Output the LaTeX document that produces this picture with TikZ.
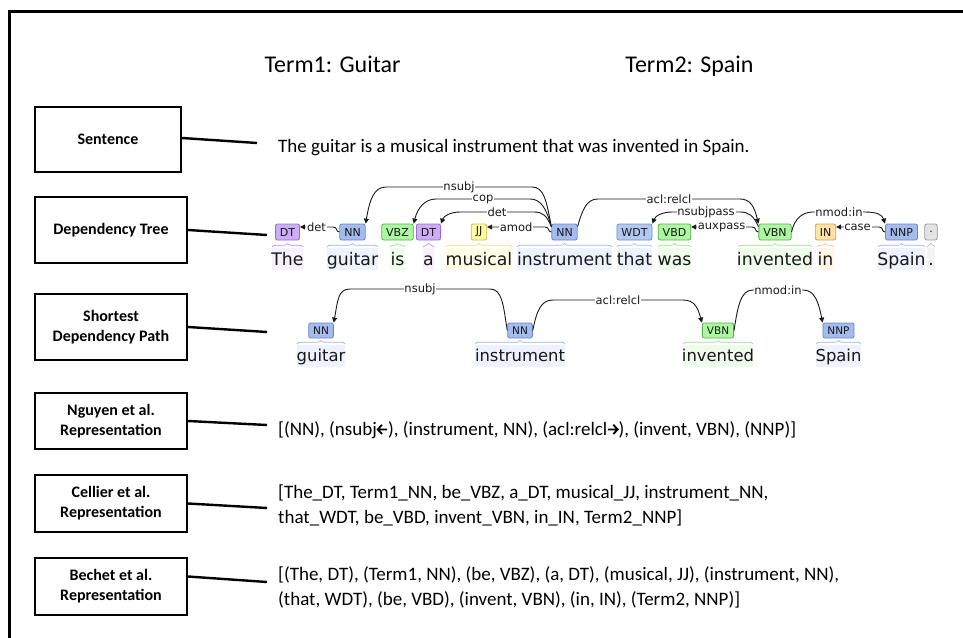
\documentclass[tikz,border=0pt]{standalone}
\usepackage{fontspec}
\setmainfont{Carlito}
\newfontfamily\depfont{DejaVu Sans}
\usetikzlibrary{arrows.meta,decorations.pathreplacing,calc}

% tag colours: f = tag fill, d = tag border, l = word shade, b = brace
\definecolor{dt-f}{HTML}{CCADF6}\definecolor{dt-d}{HTML}{9A6CC8}\definecolor{dt-l}{HTML}{F6F0FD}\definecolor{dt-b}{HTML}{B995E6}
\definecolor{nn-f}{HTML}{A4BCED}\definecolor{nn-d}{HTML}{6A87C8}\definecolor{nn-l}{HTML}{EEF2FC}\definecolor{nn-b}{HTML}{9DB3E6}
\definecolor{wdt-f}{HTML}{B3C8F0}\definecolor{wdt-d}{HTML}{7490CC}\definecolor{wdt-l}{HTML}{EEF2FC}\definecolor{wdt-b}{HTML}{A5BAE8}
\definecolor{vb-f}{HTML}{ADF6A2}\definecolor{vb-d}{HTML}{55B545}\definecolor{vb-l}{HTML}{EFFCEC}\definecolor{vb-b}{HTML}{9DDC92}
\definecolor{jj-f}{HTML}{FFFDA0}\definecolor{jj-d}{HTML}{C8C050}\definecolor{jj-l}{HTML}{FFFDE6}\definecolor{jj-b}{HTML}{E6DC8C}
\definecolor{in-f}{HTML}{FFE2A8}\definecolor{in-d}{HTML}{D9A04A}\definecolor{in-l}{HTML}{FFF6E6}\definecolor{in-b}{HTML}{EBC690}
\definecolor{pu-f}{HTML}{E3E3E3}\definecolor{pu-d}{HTML}{9A9A9A}\definecolor{pu-l}{HTML}{F4F4F4}\definecolor{pu-b}{HTML}{BBBBBB}

% heavy inline arrows used in the representation text
\newcommand{\heavyleft}{\tikz[x=1pt,y=1pt,baseline=0pt]\draw[line width=1.8pt, line join=miter]
  (5.3,1) -- (1,5.6) -- (5.3,10.2) (1,5.6) -- (10.5,5.6);}
\newcommand{\heavyright}{\tikz[x=1pt,y=1pt,baseline=0pt]\draw[line width=1.8pt, line join=miter]
  (5.2,1) -- (9.5,5.6) -- (5.2,10.2) (9.5,5.6) -- (0,5.6);}

\tikzset{
  lbox/.style={draw, line width=2pt, align=center, inner sep=0pt,
    font=\bfseries\fontsize{16}{20}\selectfont},
  link/.style={line width=2.4pt},
  txt/.style={anchor=base west, inner sep=0pt, font=\fontsize{19}{23}\selectfont},
  title/.style={anchor=base, inner sep=0pt, font=\fontsize{24}{28}\selectfont},
  tag/.style={rounded corners=2pt, line width=0.8pt, inner xsep=4.5pt, inner ysep=0pt,
    minimum height=16pt, text=black!90, font=\depfont\fontsize{11}{12}\selectfont},
  stag/.style={tag, minimum height=15pt, font=\depfont\fontsize{10.5}{12}\selectfont},
  word/.style={anchor=base, inner sep=0pt, text=black!90, font=\depfont\fontsize{17.3}{20}\selectfont},
  sword/.style={word, font=\depfont\fontsize{16.4}{20}\selectfont},
  arc/.style={draw=black!90, line width=0.9pt, -{Triangle[length=5pt,width=5pt]}},
  lab/.style={fill=white, inner sep=0.8pt, text=black!90, font=\depfont\fontsize{11.5}{12}\selectfont},
  brc/.style={decorate, decoration={brace, amplitude=3.5pt}, line width=0.7pt},
}

\begin{document}
\begin{tikzpicture}[x=1pt, y=-1pt]
\useasboundingbox (0,0) rectangle (963,637);

% outer frame
\draw[line width=2.5pt] (9.5,640) -- (9.5,11.3) -- (966,11.3);

% titles
\node[title] (term1) at (332.5,72) {Term1: Guitar};
\node[title] (term2) at (689.5,72) {Term2: Spain};

% row labels
\node[lbox, minimum width=146pt, minimum height=65pt] (b1) at (108,139.5) {Sentence};
\node[lbox, minimum width=152pt, minimum height=66pt] (b2) at (111,230) {Dependency Tree};
\node[lbox, minimum width=152pt, minimum height=66pt] (b3) at (111,327) {Shortest\\Dependency Path};
\node[lbox, minimum width=152pt, minimum height=56pt] (b4) at (111,421) {Nguyen et al.\\Representation};
\node[lbox, minimum width=152pt, minimum height=57pt] (b5) at (111,503.5) {Cellier et al.\\Representation};
\node[lbox, minimum width=152pt, minimum height=57pt] (b6) at (111,586.5) {Bechet et al.\\Representation};

\coordinate (c1) at (257,143);
\coordinate (c2) at (267,235);
\coordinate (c3) at (267,332);
\coordinate (c4) at (267,425);
\coordinate (c5) at (267,508);
\coordinate (c6) at (267,582);
\draw[link] ($(b1.east)+(0,-1.5)$) -- (c1);
\draw[link] (b2.east) -- (c2);
\draw[link] (b3.east) -- (c3);
\draw[link] (b4.east) -- (c4);
\draw[link] (b5.east) -- (c5);
\draw[link] ($(b6.east)+(0,-10)$) -- (c6);

% sentence
\node[txt] (sent) at (278,152) {The guitar is a musical instrument that was invented in Spain.};

% dependency tree tokens
\foreach \n/\xl/\xr/\tg/\cl/\wrd in {
  1/272/303/DT/dt/The,
  2/327/378/NN/nn/guitar,
  3/390/405/VBZ/vb/is,
  4/423/434/DT/dt/a,
  5/446/512/JJ/jj/musical,
  6/517/612/NN/nn/instrument,
  7/617/652/WDT/wdt/that,
  8/658/691/VBD/vb/was,
  9/738/812/VBN/vb/invented,
  10/817/834/IN/in/in,
  11/878/925/NNP/nn/Spain,
  12/927/935/./pu/.}{
  \fill[fill=\cl-l] (\xl,248) rectangle (\xr,270);
  \draw[brc, draw=\cl-b] (\xl,247) -- (\xr,247);
  \node[tag, fill=\cl-f, draw=\cl-d] (t\n) at ({(\xl+\xr)/2},232) {\tg};
  \node[word] (w\n) at ({(\xl+\xr)/2},265) {\wrd};
}

% dependency tree arcs
\draw[arc] ($(t6.north west)+(0,3)$) .. controls +(-5,-26) and +(12,0) .. (532,187)
  -- node[lab]{nsubj} (386,187) .. controls +(-12,0) and +(4,-24) .. (t2.north east);
\draw[arc] ($(t6.north west)+(0,3)$) .. controls +(-5,-18) and +(11,0) .. (530,199)
  -- node[lab]{cop} (436,199) .. controls +(-11,0) and +(4,-16) .. (t3.north east);
\draw[arc] ($(t6.north west)+(0,3)$) .. controls +(-5,-11) and +(9,0) .. (534,212)
  -- node[lab]{det} (460,212) .. controls +(-9,0) and +(3,-8) .. (t4.north east);
\draw[arc] (t6.west) .. controls +(-4,0) and +(5,0) .. (545,227)
  -- node[lab]{amod} ($(t5.east)+(0,-5)$);
\draw[arc] (t2.west) .. controls +(-4,0) and +(5,0) .. (333,227)
  -- node[lab]{det} ($(t1.east)+(0,-5)$);
\draw[arc] ($(t6.north east)+(0,3)$) .. controls +(5,-18) and +(-11,0) .. (598,199)
  -- node[lab]{acl:relcl} (740,199) .. controls +(11,0) and +(-4,-16) .. (t9.north west);
\draw[arc] ($(t9.north west)+(0,3)$) .. controls +(-5,-11) and +(9,0) .. (740,212)
  -- node[lab]{nsubjpass} (672,212) .. controls +(-9,0) and +(3,-8) .. (t7.north east);
\draw[arc] (t9.west) .. controls +(-4,0) and +(5,0) .. (752,227)
  -- node[lab]{auxpass} ($(t8.east)+(0,-5)$);
\draw[arc] (t9.east) .. controls +(3,-14) and +(-10,0) .. (813,212)
  -- node[lab]{nmod:in} (865,212) .. controls +(12,0) and +(-3,-9) .. (t11.north west);
\draw[arc] (t11.west) .. controls +(-4,0) and +(5,0) .. (879,227)
  -- node[lab]{case} ($(t10.east)+(0,-5)$);

% shortest dependency path tokens
\foreach \n/\xl/\xr/\tg/\cl/\wrd in {
  1/297/345/NN/nn/guitar,
  2/475/565/NN/nn/instrument,
  3/683/753/VBN/vb/invented,
  4/816/861/NNP/nn/Spain}{
  \fill[fill=\cl-l] (\xl,345) rectangle (\xr,367);
  \draw[brc, draw=\cl-b] (\xl,344) -- (\xr,344);
  \node[stag, fill=\cl-f, draw=\cl-d] (s\n) at ({(\xl+\xr)/2},330.5) {\tg};
  \node[sword] (v\n) at ({(\xl+\xr)/2},361) {\wrd};
}

% shortest dependency path arcs
\draw[arc] (s2.west) .. controls +(-4,-26) and +(12,0) .. (490,289)
  -- node[lab]{nsubj} (350,289) .. controls +(-12,0) and +(4,-22) .. (s1.north east);
\draw[arc] (s2.east) .. controls +(4,-20) and +(-12,0) .. (553,300)
  -- node[lab]{acl:relcl} (683,300) .. controls +(12,0) and +(-4,-14) .. (s3.north west);
\draw[arc] (s3.east) .. controls +(4,-26) and +(-12,0) .. (753,290)
  -- node[lab]{nmod:in} (803,290) .. controls +(12,0) and +(-4,-20) .. (s4.north west);

% representations
\node[txt] (ngu) at (278,435) {[(NN), (nsubj\heavyleft), (instrument, NN), (acl:relcl\heavyright), (invent, VBN), (NNP)]};
\node[txt] (cel1) at (278,498) {[The\_DT, Term1\_NN, be\_VBZ, a\_DT, musical\_JJ, instrument\_NN,};
\node[txt] (cel2) at (278,523) {that\_WDT, be\_VBD, invent\_VBN, in\_IN, Term2\_NNP]};
\node[txt] (bec1) at (278,580) {[(The, DT), (Term1, NN), (be, VBZ), (a, DT), (musical, JJ), (instrument, NN),};
\node[txt] (bec2) at (278,605) {(that, WDT), (be, VBD), (invent, VBN), (in, IN), (Term2, NNP)]};
\end{tikzpicture}
\end{document}
